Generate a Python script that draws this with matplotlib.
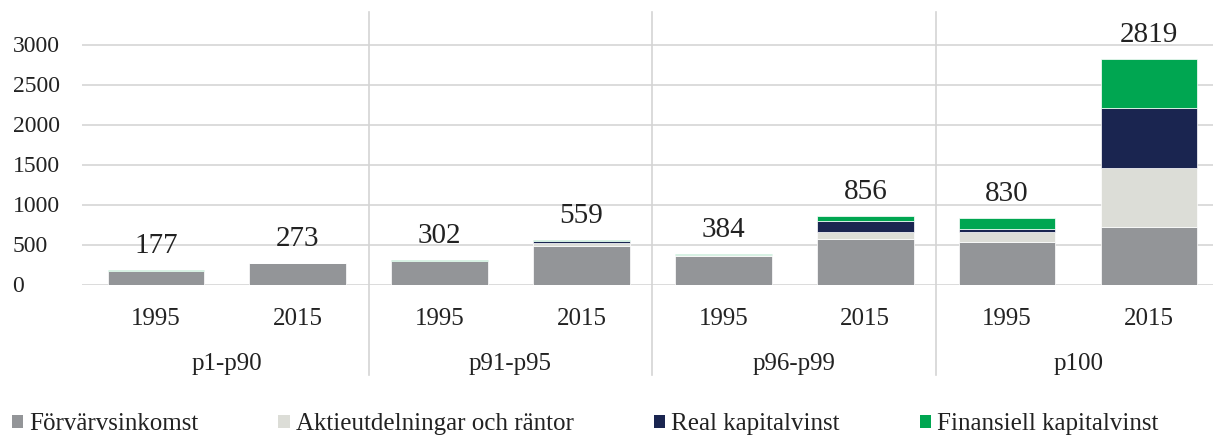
import matplotlib
matplotlib.use("Agg")
import matplotlib.pyplot as plt
from matplotlib.patches import Patch
from matplotlib.lines import Line2D
import matplotlib.transforms as mtransforms
import numpy as np

groups = ["p1-p90", "p91-p95", "p96-p99", "p100"]
years = ["1995", "2015"]
series_names = ["Förvärvsinkomst", "Aktieutdelningar och räntor",
                "Real kapitalvinst", "Finansiell kapitalvinst"]
colors = ["#939598", "#dcddd7", "#1a2550", "#00a651"]

# order: p1-p90 1995, 2015, p91-p95 1995, 2015, ...
forvarv = [163, 268, 290, 487, 355, 569, 527, 719]
aktie = [6, 3, 4, 30, 8, 87, 125, 737]
real = [1, 0, 1, 22, 3, 138, 42, 754]
finans = [7, 2, 7, 20, 18, 62, 136, 609]
totals = [177, 273, 302, 559, 384, 856, 830, 2819]

plt.rcParams['font.family'] = ['Liberation Serif', 'DejaVu Serif']

W, H = 1213, 441
fig = plt.figure(figsize=(W / 100, H / 100), dpi=100)
ax = fig.add_axes([82 / W, 156.5 / H, (1220 - 82) / W, (429.3 - 156.5) / H])

x = np.arange(len(totals))
bottom = np.zeros(len(totals))
for vals, col in zip([forvarv, aktie, real, finans], colors):
    ax.bar(x, vals, width=0.68, bottom=bottom, color=col,
           edgecolor='white', linewidth=0.5, zorder=3)
    bottom += np.array(vals)

for xi, t in zip(x, totals):
    ax.annotate(str(t), (xi, t), xytext=(0, 8), textcoords='offset points',
                ha='center', va='bottom', fontsize=21, color='#222222')

ax.set_xlim(-0.52, 7.5)
ax.set_ylim(0, 3410)
ax.set_yticks([0, 500, 1000, 1500, 2000, 2500, 3000])
ax.yaxis.grid(True, color='#d9d9d9', linewidth=1.3, zorder=0)
ax.set_axisbelow(True)
for s in ax.spines.values():
    s.set_visible(False)
ax.tick_params(axis='y', length=0, labelsize=17, pad=50, labelcolor='#222222')
for lab in ax.get_yticklabels():
    lab.set_horizontalalignment('left')

ax.set_xticks(x)
ax.set_xticklabels(years * len(groups))
ax.tick_params(axis='x', length=0, labelsize=18, pad=17, labelcolor='#222222')

trans = mtransforms.blended_transform_factory(ax.transData, ax.transAxes)
for i, g in enumerate(groups):
    ax.text(2 * i + 0.5, -0.29, g, transform=trans, ha='center', va='center',
            fontsize=18, color='#222222')
for sep in [1.5, 3.5, 5.5]:
    ax.add_line(Line2D([sep, sep], [1.0, -0.33], transform=trans, color='#d4d4d4',
                       linewidth=1.2, clip_on=False, zorder=1))

handles = [Patch(facecolor=c, edgecolor='none') for c in colors]
fig.legend(handles, series_names, loc='lower left', bbox_to_anchor=(-0.009, -0.038),
           ncol=4, frameon=False, fontsize=18, handlelength=0.45, handleheight=0.45,
           handletextpad=0.25, columnspacing=3.2, labelcolor='#222222')

fig.savefig("out.png", dpi=100)
